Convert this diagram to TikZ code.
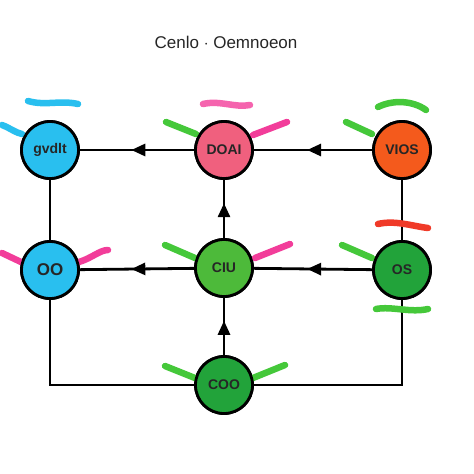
\documentclass[tikz,border=0pt]{standalone}
\usepackage{fontspec}
\setmainfont{Liberation Sans}
\usetikzlibrary{arrows.meta,decorations.markings}
\definecolor{cyanc}{HTML}{29BFEF}
\definecolor{pinkc}{HTML}{F0607E}
\definecolor{orangec}{HTML}{F45A1C}
\definecolor{greenc}{HTML}{4DBA3A}
\definecolor{dgreenc}{HTML}{22A33A}
\definecolor{lgreen}{HTML}{45C83A}
\definecolor{hpink}{HTML}{F23D9A}
\definecolor{redc}{HTML}{F03A28}
\begin{document}
\begin{tikzpicture}[x=1pt,y=-1pt,
  circ/.style={circle,draw=black,line width=2.8pt,minimum size=57pt,inner sep=0pt,font=\bfseries\fontsize{14}{15}\selectfont,text=black!85},
  conn/.style={line width=2.8pt,draw=black},
  midarrow/.style={postaction={decorate},decoration={markings,mark=at position #1 with {\arrow{Triangle[length=14pt,width=12pt]}}}},
  scrib/.style={line width=6.5pt,line cap=round,line join=round}]
\useasboundingbox (0,0) rectangle (474,474);
\fill[white] (0,0) rectangle (474,474);
\node[font=\fontsize{17}{18}\selectfont, text=black!85] (title) at (226,42) {Cenlo $\cdot$ Oemnoeon};
% nodes (first pass, for connector anchors)
\node[circ,fill=cyanc] (A) at (50,150) {gvdlt};
\node[circ,fill=pinkc] (B) at (224,150) {DOAI};
\node[circ,fill=orangec] (C) at (402,150) {VIOS};
\node[circ,fill=cyanc] (D) at (50,270) {\fontsize{17}{17}\selectfont OO};
\node[circ,fill=greenc] (E) at (224,268) {CIU};
\node[circ,fill=dgreenc] (F) at (402,270) {OS};
\node[circ,fill=dgreenc] (G) at (224,385) {COO};
\coordinate (DL) at (50,385);
\coordinate (FR) at (402,385);
% connectors
\draw[conn,midarrow=0.55] (B) -- (A);
\draw[conn,midarrow=0.55] (C) -- (B);
\draw[conn] (A) -- (D);
\draw[conn,midarrow=0.6] (E) -- (B);
\draw[conn,midarrow=0.55] (E) -- (D);
\draw[conn,midarrow=0.55] (F) -- (E);
\draw[conn] (C) -- (F);
\draw[conn,midarrow=0.6] (G) -- (E);
\draw[conn] (D) -- (DL) -- (G);
\draw[conn] (F) -- (FR) -- (G);
% scribbles
\draw[scrib,cyanc] (28,101) .. controls (45,106) and (60,100) .. (78,104);
\draw[scrib,cyanc] (2,125) .. controls (10,128) and (16,133) .. (22,134);
\draw[scrib,hpink!80] (203,104) .. controls (220,100) and (235,108) .. (250,105);
\draw[scrib,lgreen] (166,122) -- (196,134);
\draw[scrib,hpink] (253,135) -- (287,122);
\draw[scrib,lgreen] (378,107) .. controls (392,100) and (412,100) .. (426,110);
\draw[scrib,lgreen] (346,122) -- (372,134);
\draw[scrib,hpink] (2,253) -- (21,262);
\draw[scrib,hpink] (79,262) .. controls (92,258) and (100,250) .. (108,250);
\draw[scrib,lgreen] (165,245) -- (195,258);
\draw[scrib,hpink] (255,258) -- (290,244);
\draw[scrib,redc] (378,224) .. controls (395,220) and (412,226) .. (428,228);
\draw[scrib,lgreen] (342,245) -- (372,258);
\draw[scrib,lgreen] (376,309) .. controls (392,306) and (410,313) .. (428,309);
\draw[scrib,lgreen] (165,366) -- (195,378);
\draw[scrib,lgreen] (253,378) -- (285,365);
% redraw nodes on top
\node[circ,fill=cyanc] at (A) {gvdlt};
\node[circ,fill=pinkc] at (B) {DOAI};
\node[circ,fill=orangec] at (C) {VIOS};
\node[circ,fill=cyanc] at (D) {\fontsize{17}{17}\selectfont OO};
\node[circ,fill=greenc] at (E) {CIU};
\node[circ,fill=dgreenc] at (F) {OS};
\node[circ,fill=dgreenc] at (G) {COO};
\end{tikzpicture}
\end{document}
